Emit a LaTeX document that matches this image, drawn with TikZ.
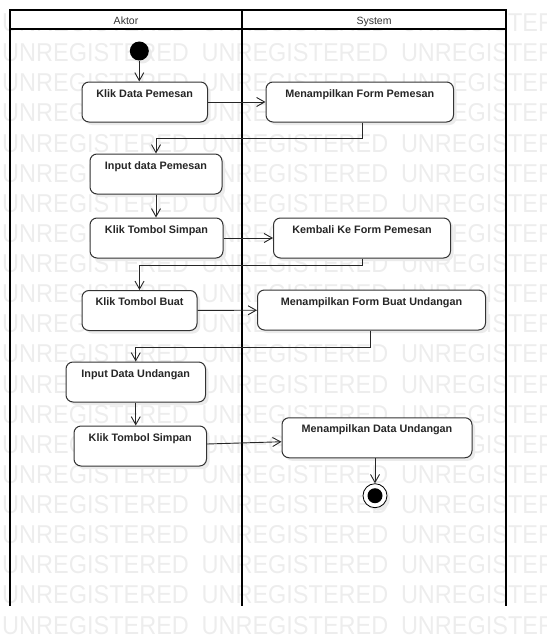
\documentclass[tikz,border=0pt]{standalone}
\usepackage{fontspec}
\usepackage{graphicx}
\usetikzlibrary{arrows.meta,shadows}
\newfontfamily\arialfont{Liberation Sans}
\newcommand{\actfont}{\arialfont\bfseries\fontsize{10.8}{13}\selectfont}
\newcommand{\lanefont}{\arialfont\fontsize{10.5}{12}\selectfont}
\newcommand{\wmtext}[1]{\scalebox{1}[1.1]{\arialfont\fontsize{23.5}{26}\selectfont #1}}

\tikzset{
  wmark/.style={anchor=base west, inner sep=0pt, text=black!7},
  lane/.style={line width=1.6pt},
  act/.style={draw=black!80, line width=1pt, fill=white, rounded corners=7pt,
    font=\actfont, text=black!85, inner xsep=0pt, inner ysep=4pt,
    text height=11pt, text depth=21pt,
    drop shadow={shadow xshift=3pt, shadow yshift=-3pt, opacity=1, fill=black!8}},
  flow/.style={-{Straight Barb[length=8pt,width=9pt]}, draw=black!85, line width=0.9pt},
}

\begin{document}
\begin{tikzpicture}[x=1pt,y=-1pt]
  \useasboundingbox (0,0) rectangle (546,642);
  % watermark
  \begin{scope}
    \clip (0,0) rectangle (546,642);
    \foreach \r in {0,...,20}
      \foreach \c in {0,1,2}
        \node[wmark] (wm-\r-\c) at ({2+199.4*\c},{31.6+30.12*\r}) {\wmtext{UNREGISTERED}};
  \end{scope}

  % swimlanes
  \draw[lane, fill=white] (10,10) rectangle (506,29);
  \draw[lane] (10,29) -- (10,606);
  \draw[lane] (242,10) -- (242,606);
  \draw[lane] (506,29) -- (506,606);
  \node[font=\lanefont, text=black!80, anchor=base] (aktor) at (126,24.5) {Aktor};
  \node[font=\lanefont, text=black!80, anchor=base] (system) at (374,24.5) {System};

  % activities
  \node[circle, fill=black, minimum size=19pt, inner sep=0pt,
    drop shadow={shadow xshift=3pt, shadow yshift=-3pt, opacity=1, fill=black!8}] (start) at (139.3,51) {};
  \node[act, minimum width=125.5pt] (kdp) at (144.75,102) {Klik Data Pemesan};
  \node[act, minimum width=187.5pt] (mfp) at (359.75,102) {Menampilkan Form Pemesan};
  \node[act, minimum width=132pt] (idp) at (156,174) {Input data Pemesan};
  \node[act, minimum width=133pt] (kts1) at (156.5,238) {Klik Tombol Simpan};
  \node[act, minimum width=177pt] (kkf) at (362,238) {Kembali Ke Form Pemesan};
  \node[act, minimum width=115pt] (ktb) at (139.5,310.5) {Klik Tombol Buat};
  \node[act, minimum width=228pt] (mfbu) at (371.5,310) {Menampilkan Form Buat Undangan};
  \node[act, minimum width=139.5pt] (idu) at (135.75,382) {Input Data Undangan};
  \node[act, minimum width=132.5pt] (kts2) at (140.25,446) {Klik Tombol Simpan};
  \node[act, minimum width=190pt] (mdu) at (377,437.75) {Menampilkan Data Undangan};
  \node[circle, draw=black, fill=white, line width=0.8pt, minimum size=24pt, inner sep=0pt,
    drop shadow={shadow xshift=3pt, shadow yshift=-3pt, opacity=1, fill=black!8}] (finish) at (375,495.7) {};
  \node[circle, fill=black, minimum size=15pt, inner sep=0pt] (finish-in) at (finish) {};

  % flows
  \draw[flow] (start) -- (start |- kdp.north);
  \draw[flow] (kdp) -- (mfp);
  \draw[flow] ([xshift=2.5pt]mfp.south) -- ++(0,16) -| (idp.north);
  \draw[flow] (idp.south) -- (idp.south |- kts1.north);
  \draw[flow] (kts1) -- (kkf);
  \draw[flow] (kkf.south) -- ++(0,7) -| (ktb.north);
  \draw[flow] (ktb) -- (mfbu);
  \draw[flow] ([xshift=-1.5pt]mfbu.south) -- ++(0,17) -| (idu.north);
  \draw[flow] (idu.south) -- (idu.south |- kts2.north);
  \draw[flow] ([yshift=2pt]kts2.east) -- ([yshift=-4pt]mdu.west);
  \draw[flow] (finish |- mdu.south) -- (finish);
\end{tikzpicture}
\end{document}
